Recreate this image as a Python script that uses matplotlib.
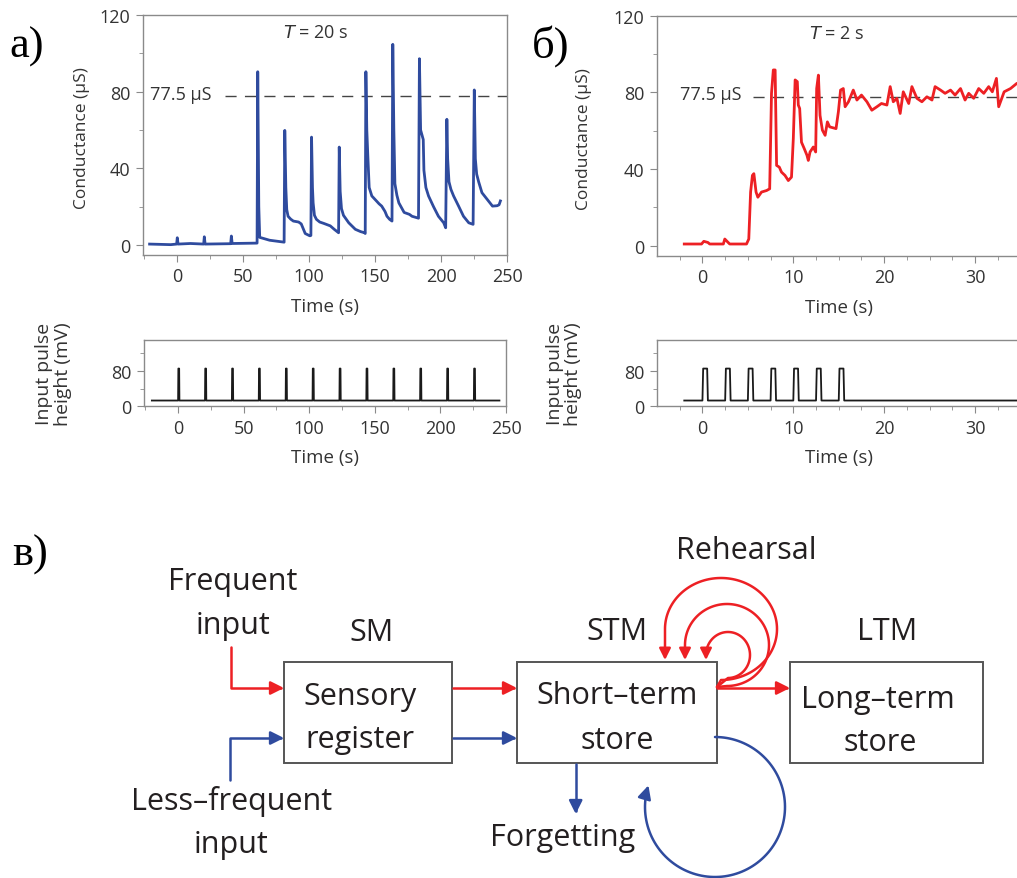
import matplotlib.pyplot as plt
import numpy as np
from matplotlib.patches import Rectangle, FancyArrowPatch
from matplotlib.path import Path

plt.rcParams['font.family'] = ['Open Sans', 'DejaVu Sans']
plt.rcParams['mathtext.fontset'] = 'dejavusans'

BLUE = '#2f4b9e'
RED = '#ed2024'
INK = '#231f20'
FRAME = '#8a8a8a'

# conductance response, T = 20 s pulse train
t_slow = [-21, -5, -0.5, 0, 0.6, 10, 20, 20.5, 21.1, 40.5, 41, 41.6, 60.5,
          61, 61.8, 62.5, 70, 81,
          81.5, 82.3, 83, 84, 86, 88, 92, 94, 95.5, 97, 100.5, 101.3,
          101.8, 102.5, 103, 104, 105.5, 108, 111, 116, 119, 122.3,
          122.8, 123.5, 124.5, 126, 130, 135, 139, 142, 142.5,
          143, 143.7, 144.5, 145.5, 147.5, 151, 153, 155, 157.5, 159, 161, 162.8,
          163.4, 164.2, 165, 166.5, 168, 172, 176, 178, 182.9,
          183.6, 184.5, 186.5, 187, 188.5, 190.5, 194.3, 198, 202, 203.5,
          204.4, 205, 206, 207.5, 209.5, 213.3, 217, 221, 224.3,
          225.2, 226, 227, 228.5, 231, 235, 239, 242.5, 244, 245]
g_slow = [0.5, 0.2, 0.5, 3.8, 0.5, 0.8, 0.5, 4.3, 0.5, 0.7, 4.7, 0.8, 1.0,
          90.4, 20, 4, 2.5, 1.5,
          59.8, 30, 18.5, 15, 13.5, 12.5, 12, 11, 8.5, 6, 4.8, 5,
          56.3, 30, 22, 15.5, 13.4, 12, 11.3, 10, 8.2, 6.4,
          51.1, 28, 19, 15.5, 11.6, 8.2, 7, 6.4, 6,
          90.4, 60, 46, 30, 25.6, 23, 21.5, 20.3, 17.5, 15, 13.4, 12.5,
          104.7, 60, 32, 26, 22, 17, 16, 15, 14,
          97.2, 60, 55, 39, 30, 25.6, 20, 15, 11.6, 9,
          65.6, 45, 33, 29, 25.6, 20.3, 15, 11.6, 10.8,
          80.9, 45, 37, 33, 27.3, 23.8, 20.3, 20.5, 21, 23]

# conductance response, T = 2 s pulse train
t_fast = [-2.0, -0.1, 0.15, 0.6, 0.8, 2.3, 2.46, 2.83, 3.0, 4.85, 5.1, 5.3,
          5.5, 5.66, 5.9, 6.1, 6.5, 7.06, 7.4, 7.6, 7.8, 8.0, 8.16, 8.46,
          8.7, 9.08, 9.45, 9.8, 10.0, 10.2, 10.44, 10.55, 10.7, 10.9, 11.2,
          11.5, 11.65, 11.84, 12.2, 12.46, 12.57, 12.76, 12.94, 13.2, 13.5,
          13.75, 14.0, 14.7, 14.96, 15.2, 15.5, 15.7, 16.07, 16.6, 17.0,
          17.5, 18.1, 18.64, 19.2, 19.7, 20.3, 20.66, 21.0, 21.4, 21.76,
          22.1, 22.7, 23.05, 23.6, 24.15, 24.7, 25.26, 25.6, 26.2, 26.7,
          27.3, 27.8, 28.4, 28.9, 29.3, 29.85, 30.4, 30.96, 31.5, 31.9,
          32.35, 32.6, 33.2, 33.9, 34.6, 35.5]
g_fast = [0.9, 0.9, 2.3, 1.7, 0.9, 0.9, 3.5, 1.7, 0.9, 0.9, 3.5, 28,
          36.7, 37.6, 28, 25.3, 28, 28.8, 29.7, 79.5, 91.7, 91.7, 41.9, 41,
          38.4, 36.7, 34, 35.8, 55.9, 86.5, 85.6, 73.4, 71.6, 54, 50.7,
          47.2, 44.5, 48.9, 51.5, 48.9, 82, 89, 68, 60.3, 57.6,
          64.6, 62, 61.1, 69.9, 81.2, 82, 72.5, 75.1, 81.2, 76,
          78.6, 75.1, 70.7, 72.5, 74.2, 73.4, 83, 75.1, 76.9, 69,
          80.3, 74.2, 83, 76.9, 75.1, 77.7, 76, 83, 81.2, 79.5,
          81.2, 78.6, 82, 76, 79.5, 76.9, 82, 79.5, 83, 80.3,
          87.3, 72.5, 80.3, 82, 84.7, 85]

threshold = 77.5

# input pulse trains
pulses_slow = [20.5 * k for k in range(12)]
pulses_fast = [0, 2.5, 5, 7.5, 10, 12.5, 15]
pulse_base, pulse_peak = 13, 85


def pulse_trace(starts, width, t0, t1, edge):
    xs, ys = [t0], [pulse_base]
    for s in starts:
        xs += [s, s + edge, s + width - edge, s + width]
        ys += [pulse_base, pulse_peak, pulse_peak, pulse_base]
    xs.append(t1)
    ys.append(pulse_base)
    return xs, ys


fig = plt.figure(figsize=(10.17, 8.79), dpi=100)

# diagram layer in pixel units
axd = fig.add_axes([0, 0, 1, 1])
axd.set_xlim(0, 1017)
axd.set_ylim(879, 0)
axd.axis('off')


def style_axes(ax, right=True):
    for s in ax.spines.values():
        s.set_color(FRAME)
        s.set_linewidth(1.0)
    if not right:
        ax.spines['right'].set_visible(False)
    ax.tick_params(which='both', direction='out', color=FRAME, labelcolor='#333333',
                   labelsize=13, top=False, right=False)
    ax.tick_params(which='major', length=5, pad=4)
    ax.tick_params(which='minor', length=3)


def top_panel(ax, t, g, color, xlim, xmaj, xmin, dash_from, ttext, tx, ylx):
    ax.plot(t, g, color=color, lw=2.0, solid_joinstyle='round', zorder=3)
    ax.hlines(threshold, dash_from, xlim[1] + 5, colors='#444444', lw=1.0,
              linestyles=(0, (8, 6)), zorder=2)
    ax.set_xlim(*xlim)
    ax.set_ylim(-5.2, 120)
    ax.set_yticks([0, 40, 80, 120])
    ax.set_yticks([20, 60, 100], minor=True)
    ax.set_xticks(xmaj)
    ax.set_xticks(xmin, minor=True)
    ax.set_xlabel('Time (s)', fontsize=13.5, color='#333333')
    ax.set_ylabel('Conductance (μS)', fontsize=12.5, color='#333333')
    ax.xaxis.set_label_coords(0.5, -0.175)
    ax.yaxis.set_label_coords(ylx, 0.49)
    ax.text(tx, 111, r'$T$ = ' + ttext, ha='center', va='center', fontsize=13, color='#333333')


def bottom_panel(ax, xs, ys, xlim, xmaj, xmin, ylx):
    ax.plot(xs, ys, color='#1a1a1a', lw=1.3)
    ax.set_xlim(*xlim)
    ax.set_ylim(0, 150)
    ax.set_yticks([0, 80])
    ax.set_yticks([40, 120], minor=True)
    ax.set_xticks(xmaj)
    ax.set_xticks(xmin, minor=True)
    ax.set_xlabel('Time (s)', fontsize=13.5, color='#333333')
    ax.set_ylabel('Input pulse\nheight (mV)', fontsize=14, color='#333333', linespacing=1.05)
    ax.xaxis.set_label_coords(0.5, -0.63)
    ax.yaxis.set_label_coords(ylx, 0.5)


# a) slow pulse train
ax1 = fig.add_axes([143 / 1017, 1 - 256 / 879, 364 / 1017, 240 / 879])
style_axes(ax1)
top_panel(ax1, t_slow, g_slow, BLUE, (-26, 250), [0, 50, 100, 150, 200, 250],
          [-25, 25, 75, 125, 175, 225], 36, '20 s', 105, -0.145)
ax1.text(-21, threshold + 1.5, '77.5 μS', ha='left', va='center', fontsize=13, color='#333333')

ax2 = fig.add_axes([144 / 1017, 1 - 407.3 / 879, 362 / 1017, 66.6 / 879])
style_axes(ax2)
xs, ys = pulse_trace(pulses_slow, 1.0, -20, 245, 0.2)
bottom_panel(ax2, xs, ys, (-26, 250), [0, 50, 100, 150, 200, 250],
             [-25, 25, 75, 125, 175, 225], -0.2)

# б) fast pulse train
ax3 = fig.add_axes([657 / 1017, 1 - 256.7 / 879, 363.5 / 1017, 240 / 879])
style_axes(ax3, right=False)
top_panel(ax3, t_fast, g_fast, RED, (-5, 35), [0, 10, 20, 30],
          [-2.5, 2.5, 5, 7.5, 12.5, 15, 17.5, 22.5, 25, 27.5, 32.5], 5.6, '2 s', 14.8, -0.178)
ax3.text(-2.5, threshold + 1.5, '77.5 μS', ha='left', va='center', fontsize=13, color='#333333')

ax4 = fig.add_axes([657 / 1017, 1 - 407.3 / 879, 363.5 / 1017, 66.6 / 879])
style_axes(ax4, right=False)
xs, ys = pulse_trace(pulses_fast, 0.6, -2, 36, 0.08)
bottom_panel(ax4, xs, ys, (-5, 35), [0, 10, 20, 30],
             [-2.5, 2.5, 5, 7.5, 12.5, 15, 17.5, 22.5, 25, 27.5, 32.5], -0.205)

# panel letters
for x, y, s in [(9, 47, 'а)'), (532, 46, 'б)'), (12, 555, 'в)')]:
    fig.text(x / 1017, 1 - y / 879, s, fontsize=32, family='Liberation Serif',
             ha='left', va='center', color='black')

# memory model diagram
for x0, w in [(284, 168), (517, 200), (790, 193)]:
    axd.add_patch(Rectangle((x0, 663), w, 101, fc='none', ec='#555555', lw=1.4))


def arrow(verts, color, scale=20):
    p = FancyArrowPatch(path=Path(verts), arrowstyle='-|>', mutation_scale=scale,
                        color=color, lw=1.8, shrinkA=0, shrinkB=0, joinstyle='round')
    axd.add_patch(p)


def arc_pts(cx, cy, rx, ry, a0, a1):
    a = np.radians(np.linspace(a0, a1, 120))
    return list(zip(cx + rx * np.cos(a), cy - ry * np.sin(a)))


arrow([(230.7, 648), (230.7, 689), (284, 689)], RED)
arrow([(229.5, 781), (229.5, 739), (284, 739)], BLUE)
arrow([(453, 689), (517, 689)], RED)
arrow([(453, 739), (517, 739)], BLUE)
arrow([(717, 689), (790, 689)], RED)
arrow([(575.7, 765), (575.7, 815)], BLUE)

# rehearsal loops, each dropping onto the top of the short-term store
for cx, cy, rx, ry in [(721, 630, 56, 51), (727, 646, 42, 41), (728, 656, 22, 23)]:
    pts = [(717, 688)] + arc_pts(cx, cy, rx, ry, -90, 180)
    pts.append((cx - rx, 661))
    arrow(pts, RED, 17)

# forgetting loop
arrow(arc_pts(715, 808, 70, 70, 90, -198), BLUE)

labels = [(233, 582, 'Frequent'), (233, 626, 'input'), (372, 633, 'SM'),
          (617, 632, 'STM'), (887, 632, 'LTM'), (746, 551, 'Rehearsal'),
          (360, 697, 'Sensory'), (360, 740, 'register'),
          (617, 696, 'Short–term'), (617, 741, 'store'),
          (878, 700, 'Long–term'), (880, 743, 'store'),
          (232, 802, 'Less–frequent'), (231, 845, 'input'), (563, 838, 'Forgetting')]
for x, y, s in labels:
    axd.text(x, y, s, ha='center', va='center', fontsize=22, color=INK)

fig.savefig('out.png', dpi=100)
